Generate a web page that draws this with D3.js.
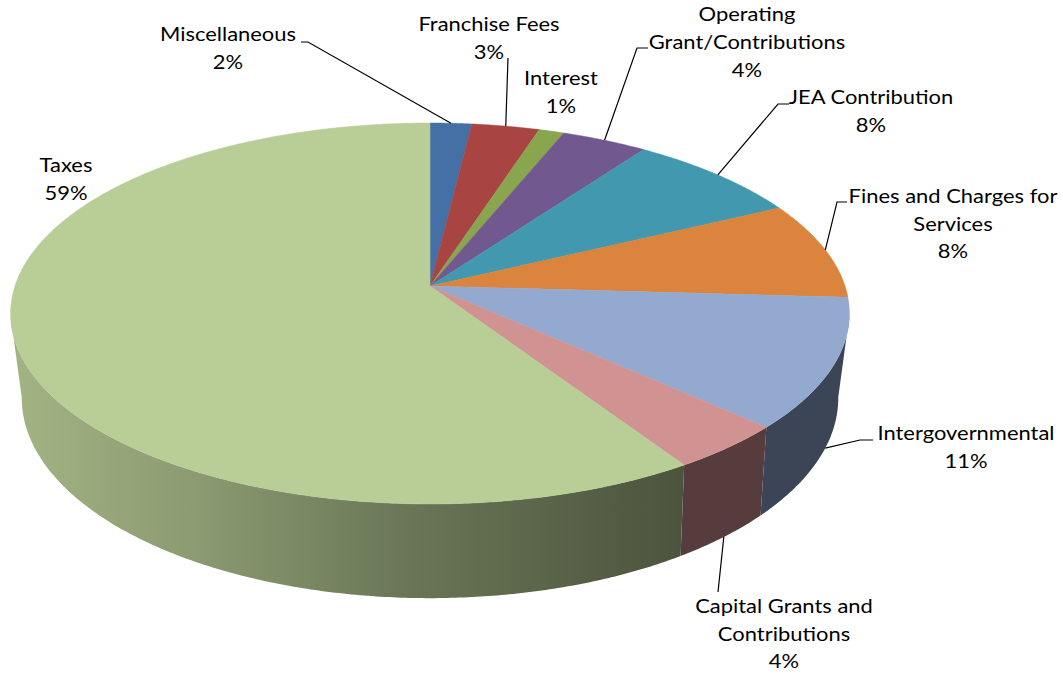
<!DOCTYPE html>
<html>
<head>
<meta charset="utf-8">
<script src="https://cdn.jsdelivr.net/npm/d3@7"></script>
<style>
html,body{margin:0;padding:0;background:#fff;overflow:hidden}
svg{display:block}
text{font-family:Lato,"Open Sans",sans-serif;font-size:19px;fill:#000}
</style>
</head>
<body>
<svg id="chart" width="1063" height="677"></svg>
<script>
const categories = ["Miscellaneous","Franchise Fees","Interest","Operating Grant/Contributions","JEA Contribution","Fines and Charges for Services","Intergovernmental","Capital Grants and Contributions","Taxes"];
const values = [1.84,3.0,1.12,3.8,7.9,8.3,11.0,4.0,59.04];
const percentLabels = ["2%","3%","1%","4%","8%","8%","11%","4%","59%"];
const colors = ["#4470a5","#a84442","#89a54e","#71588f","#4198af","#db843d","#93a9cf","#d19392","#b9cd96"];
const labelLines = [["Miscellaneous"],["Franchise Fees"],["Interest"],["Operating","Grant/Contributions"],["JEA Contribution"],["Fines and Charges for"," Services"],["Intergovernmental"],["Capital Grants and","Contributions"],["Taxes"]];
// layout: label centre x, first baseline y
const labelX = [228,489,561,747,871,953,966,784,66];
const labelY = [41.5,31.5,85.5,21.5,104.5,203,440.5,613,172];
const lineGap = 27.7;
const textStretch = 1.155;
// leader start and elbow; null = no leader
const leaderStart = [[301,42,308,42],[508,58,508,58],null,[648,48,637,48],[789,104,778,104],[847,202,837,202],[873,440,860,440],[718,592,718,592],null];
const leaderOnBottom = [false,false,false,false,false,false,true,true,false];

const svg = d3.select("#chart");
const apex = {x:430,y:286};
const upper = {x:430,y:286,a:415,b:186.5,k:0.1443};
const lower = {x:430,y:366,a:403,b:195,k:0.16};
function project(theta, disc){
  const u = Math.sin(theta), v = Math.cos(theta), w = 1 + disc.k*v;
  return [disc.x + disc.a*u/w, disc.y - disc.b*v/w];
}
const pie = d3.pie().sort(null).value(d=>d).startAngle(0).endAngle(2*Math.PI);
const arcs = pie(values);
const line = d3.line();
const step = Math.PI/360;
const shadeX = [10,200,400,680,1063];
const shadeV = [0.88,0.75,0.58,0.41,0.41];
const x01 = d3.scaleLinear().domain([0,1063]).range([0,100]);

// side wall, one gradient per slice
const defs = svg.append("defs");
const wall = svg.append("g");
arcs.forEach((d,i)=>{
  const c = d3.rgb(colors[i]);
  const grad = defs.append("linearGradient").attr("id","w"+i).attr("gradientUnits","userSpaceOnUse")
    .attr("x1",0).attr("x2",1063).attr("y1",0).attr("y2",0);
  shadeX.forEach((x,j)=>{
    const s = shadeV[j];
    grad.append("stop").attr("offset",x01(x)+"%").attr("stop-color",d3.rgb(c.r*s,c.g*s,c.b*s));
  });
  const ts = d3.range(d.startAngle,d.endAngle,step).concat([d.endAngle]).filter(t=>Math.cos(t) <= -0.15);
  if(ts.length<2) return;
  const pts = ts.map(t=>project(t,upper)).concat(ts.slice().reverse().map(t=>project(t,lower)));
  wall.append("path").attr("d",line(pts)+"Z").attr("fill","url(#w"+i+")");
});
// top face
const topG = svg.append("g");
arcs.forEach((d,i)=>{
  const pts = [[apex.x,apex.y]];
  for(const t of d3.range(d.startAngle,d.endAngle,step)) pts.push(project(t,upper));
  pts.push(project(d.endAngle,upper));
  topG.append("path").attr("d",line(pts)+"Z").attr("fill",colors[i]).attr("stroke",colors[i]).attr("stroke-width",0.5);
});
// leaders
const leaders = svg.append("g").attr("fill","none").attr("stroke","#000").attr("stroke-width",1.2);
arcs.forEach((d,i)=>{
  if(!leaderStart[i]) return;
  const mid = (d.startAngle+d.endAngle)/2;
  const end = project(mid, leaderOnBottom[i] ? lower : upper);
  const l = leaderStart[i];
  leaders.append("path").attr("d",line([[l[0],l[1]],[l[2],l[3]],end]));
});
// labels
labelLines.forEach((ls,i)=>{
  const t = svg.append("text").attr("text-anchor","middle")
    .attr("transform","translate("+labelX[i]+",0) scale("+textStretch+",1)");
  const all = ls.concat([percentLabels[i]]);
  all.forEach((s,j)=>t.append("tspan").attr("x",0).attr("y",labelY[i]+j*lineGap).text(s.trim()));
});
</script>
</body>
</html>
